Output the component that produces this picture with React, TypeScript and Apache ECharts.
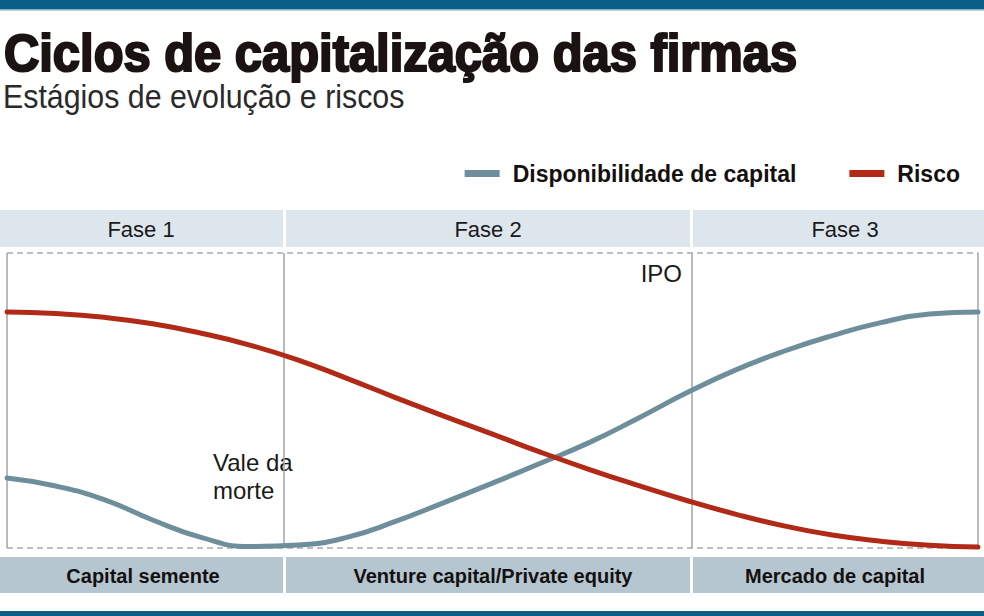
import React, { useEffect, useRef } from "react";
import * as echarts from "echarts";

// Position along the firm's life cycle (0 = start, 100 = end)
const stagePos = [0, 5, 10, 15, 20, 25, 30, 35, 40, 45, 50, 55, 60, 65, 70, 75, 80, 85, 90, 95, 100];
// Disponibilidade de capital
const capital = [23.7, 21.0, 16.4, 9.5, 3.6, 0.5, 1.0, 3.6, 9.0, 15.4, 22.0, 28.8, 35.8, 44.0, 52.6, 60.3, 66.7, 72.0, 76.4, 79.3, 80.0];
// Risco
const risco = [80.0, 79.5, 78.2, 76.0, 72.8, 68.8, 63.7, 57.5, 51.0, 44.7, 38.6, 32.4, 26.6, 21.2, 16.1, 11.5, 7.5, 4.4, 2.3, 0.9, 0.3];

const phaseBounds = [0, 28.5, 70.5, 100];
const phases = ["Fase 1", "Fase 2", "Fase 3"];
const stages = ["Capital semente", "Venture capital/Private equity", "Mercado de capital"];
const seriesNames = ["Disponibilidade de capital", "Risco"];

const FONT = "'Liberation Sans', Arial, sans-serif";

export default function App() {
  const ref = useRef<HTMLDivElement>(null);
  useEffect(() => {
    document.body.style.margin = "0";
    const chart = echarts.init(ref.current!, null, { renderer: "svg" });
    const W = 984;
    const bandRects = (y: number, h: number, fill: string) => [
      { type: "rect", shape: { x: 0, y, width: 283, height: h }, style: { fill } },
      { type: "rect", shape: { x: 286, y, width: 404, height: h }, style: { fill } },
      { type: "rect", shape: { x: 693, y, width: W - 693, height: h }, style: { fill } },
    ];
    const phaseCenters = [141, 488, 845];
    const stageCenters = [143, 493, 835];
    chart.setOption({
      animation: false,
      backgroundColor: "#ffffff",
      grid: { left: 7, right: 6, top: 253, bottom: 68 },
      xAxis: { type: "value", min: 0, max: 100, show: false },
      yAxis: { type: "value", min: 0, max: 100, show: false },
      legend: {
        data: seriesNames.map((n) => ({ name: n, icon: "rect" })),
        right: 19,
        top: 157,
        itemWidth: 35,
        itemHeight: 7,
        itemGap: 53,
        selectedMode: false,
        textStyle: {
          fontFamily: FONT,
          fontWeight: "bold",
          fontSize: 23,
          color: "#151010",
          padding: [0, 0, 0, 8],
        },
      },
      series: [
        {
          name: seriesNames[0],
          type: "line",
          smooth: 0.5,
          symbol: "none",
          data: stagePos.map((x, i) => [x, capital[i]]),
          lineStyle: { color: "#6f8e9c", width: 5, cap: "round" },
          itemStyle: { color: "#6f8e9c" },
          z: 3,
          markLine: {
            silent: true,
            symbol: "none",
            z: 1,
            label: { show: false },
            data: [
              { yAxis: 100, lineStyle: { type: [6, 4], color: "#ababab", width: 1.5 } },
              { yAxis: 0, lineStyle: { type: [6, 4], color: "#ababab", width: 1.5 } },
              ...phaseBounds.map((b) => ({ xAxis: b, lineStyle: { type: "solid", color: "#a3a3a3", width: 1.5 } })),
            ],
          },
        },
        {
          name: seriesNames[1],
          type: "line",
          smooth: 0.5,
          symbol: "none",
          data: stagePos.map((x, i) => [x, risco[i]]),
          lineStyle: { color: "#b12a17", width: 5, cap: "round" },
          itemStyle: { color: "#b12a17" },
          z: 4,
        },
      ],
      graphic: [
        { type: "rect", shape: { x: 0, y: 0, width: W, height: 9 }, style: { fill: "#0b5f86" } },
        { type: "rect", shape: { x: 0, y: 9, width: W, height: 1.5 }, style: { fill: "#7fb0c8" } },
        {
          type: "text", x: 4, y: 53, scaleX: 0.94,
          style: { text: "Ciclos de capitalização das firmas", fontFamily: FONT, fontWeight: "bold", fontSize: 52, fill: "#1a1311", stroke: "#1a1311", lineWidth: 2.2, verticalAlign: "middle" },
        },
        {
          type: "text", x: 3, y: 97, scaleX: 0.92,
          style: { text: "Estágios de evolução e riscos", fontFamily: FONT, fontWeight: "normal", fontSize: 33, fill: "#2a2a2a", verticalAlign: "middle" },
        },
        ...bandRects(210, 37, "#dde6ed"),
        ...phases.map((p, i) => ({
          type: "text", x: phaseCenters[i], y: 229,
          style: { text: p, fontFamily: FONT, fontSize: 22, fill: "#1a1a1a", align: "center", verticalAlign: "middle" },
        })),
        ...bandRects(557, 36, "#b5c6d0"),
        ...stages.map((s, i) => ({
          type: "text", x: stageCenters[i], y: 576,
          style: { text: s, fontFamily: FONT, fontWeight: "bold", fontSize: 20, fill: "#141010", align: "center", verticalAlign: "middle" },
        })),
        { type: "rect", shape: { x: 0, y: 611, width: W, height: 5 }, style: { fill: "#0b5f86" } },
        {
          type: "text", x: 682, y: 273,
          style: { text: "IPO", fontFamily: FONT, fontSize: 24, fill: "#1a1a1a", align: "right", verticalAlign: "middle" },
        },
        {
          type: "text", x: 213, y: 476,
          style: { text: "Vale da\nmorte", fontFamily: FONT, fontSize: 24, lineHeight: 28, fill: "#1a1a1a", align: "left", verticalAlign: "middle" },
        },
      ],
    });
    return () => chart.dispose();
  }, []);
  return <div ref={ref} style={{ width: 984, height: 616 }} />;
}
